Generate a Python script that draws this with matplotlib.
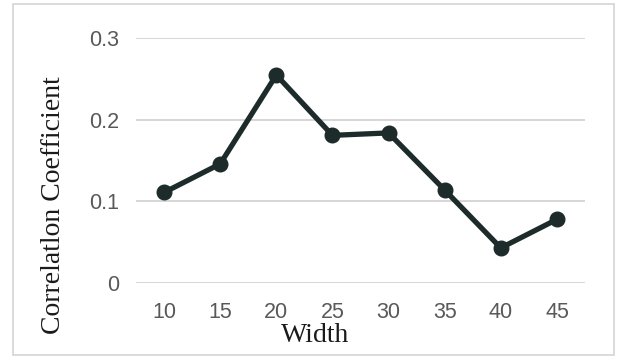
import matplotlib
matplotlib.use("Agg")
import matplotlib.pyplot as plt
from matplotlib.patches import Rectangle

widths = ["10", "15", "20", "25", "30", "35", "40", "45"]
corr = [0.111, 0.146, 0.255, 0.181, 0.184, 0.114, 0.043, 0.078]
yticks = [0, 0.1, 0.2, 0.3]
ylabels = ["0", "0.1", "0.2", "0.3"]

W, H = 617, 358
fig = plt.figure(figsize=(W / 100, H / 100), dpi=100)
ax = fig.add_axes([136 / W, 1 - 283 / H, (585 - 136) / W, (283 - 38.3) / H])

x = list(range(len(widths)))
ax.plot(x, corr, color="#1e2b2b", lw=3.8, marker="o", ms=10.5, solid_joinstyle="round")

ax.set_xlim(-0.5, len(widths) - 0.5)
ax.set_ylim(0, 0.3)
ax.set_xticks(x)
ax.set_xticklabels(widths)
ax.set_yticks(yticks)
ax.set_yticklabels(ylabels)
ax.tick_params(length=0, labelsize=15.5, labelcolor="#595959")
ax.tick_params(axis="y", pad=12)
ax.tick_params(axis="x", pad=14)
for lab in ax.get_xticklabels() + ax.get_yticklabels():
    lab.set_fontfamily("Liberation Sans")

ax.grid(axis="y", color="#d0d0d0", lw=1.2)
ax.set_axisbelow(True)
for s in ax.spines.values():
    s.set_visible(False)

fig.text(315 / W, 1 - 336 / H, "Width", ha="center", va="center",
         family="Liberation Serif", fontsize=20, color="#1a1a1a")
fig.text(54 / W, 1 - 205 / H, "Correlatlon Coefficient", ha="center", va="center",
         rotation=90, family="Liberation Serif", fontsize=20, color="#1a1a1a")

# light frame around the whole chart
fig.patches.append(Rectangle((13 / W, 1 - 355 / H), 601 / W, 351 / H,
                             transform=fig.transFigure, fill=False,
                             edgecolor="#d4d4d4", lw=1.2))

fig.savefig("out.png", dpi=100)
